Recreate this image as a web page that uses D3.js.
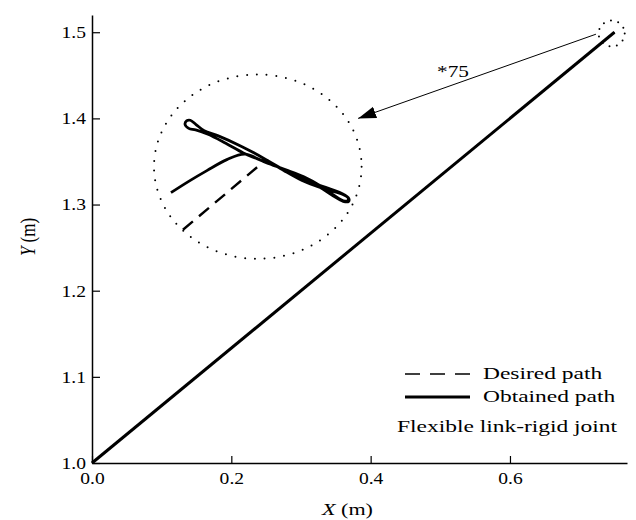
<!DOCTYPE html>
<html>
<head>
<meta charset="utf-8">
<script src="https://cdn.jsdelivr.net/npm/d3@7"></script>
<style>
  body { margin: 0; background: #fff; }
  text { font-family: "Liberation Serif", serif; font-size: 17px; fill: #000; }
</style>
</head>
<body>
<div id="chart"></div>
<script>
// ---- data ----
const xTicks = [0, 0.2, 0.4, 0.6];
const yTicks = [1.0, 1.1, 1.2, 1.3, 1.4, 1.5];

// end-effector path in metres
const desiredPath = [[0, 1.0], [0.75, 1.5]];
const obtainedPath = [[0, 1.0], [0.75, 1.5]];

// magnified view of the end point (*75), local units
const insetDesired = [[-7.5, -6.3], [0, 0]];
const insetObtained = [
  [-8.7, -2.6], [-6.8, -1.4], [-5.1, -0.4], [-3.1, 0.7], [-1.29, 1.24],
  [0.85, 0.39], [2.74, -0.30], [4.61, -1.02], [6.37, -1.98], [7.62, -2.85],
  [8.57, -3.41], [9.01, -3.40], [9.05, -3.09], [8.35, -2.70],
  [6.31, -2.11], [4.44, -1.38], [2.68, -0.43], [0.53, 0.87], [-1.68, 2.04],
  [-3.96, 3.07], [-5.37, 3.58], [-6.19, 4.20], [-6.76, 4.63],
  [-7.11, 4.58], [-7.29, 4.22], [-6.92, 3.82],
  [-6.23, 3.66], [-4.99, 3.23], [-3.21, 2.33], [-1.45, 1.37], [0.40, 0.60],
  [2.74, -0.30], [4.59, -1.07], [6.31, -2.11], [7.58, -2.94], [8.55, -3.46],
  [9.08, -3.49], [9.12, -3.18], [8.47, -2.70],
  [7.34, -2.27], [5.92, -1.76], [4.05, -1.03], [2.27, -0.13], [0.96, 0.61]
];
const insetExtent = [10.4, 9.2];

// annotation anchors (metres)
const zoomSpot = { cx: 0.746, cy: 1.4985, rx: 0.0187, ry: 0.015 };
const insetSpot = { cx: 0.238, cy: 1.344, rx: 0.149, ry: 0.107 };
const arrowFrom = [0.7234, 1.4977];
const arrowTo = [0.382, 1.400];
const zoomLabel = { text: "*75", x: 0.4953, y: 1.4484 };

const legendItems = [
  { name: "Desired path", dash: "15 10", width: 1.6 },
  { name: "Obtained path", dash: null, width: 3 }
];
const legendNote = "Flexible link-rigid joint";

// ---- layout ----
const width = 636, height = 520;
const margin = { top: 15, right: 9, bottom: 57, left: 92 };
const textStretch = 1.38, tickStretch = 1.15;

const svg = d3.select("#chart").append("svg")
  .attr("width", width)
  .attr("height", height);

const x = d3.scaleLinear().domain([0, 0.768]).range([margin.left, width - margin.right]);
const y = d3.scaleLinear().domain([1.0, 1.52]).range([height - margin.bottom, margin.top]);

const line = d3.line().x(d => x(d[0])).y(d => y(d[1]));

// axes
const xAxis = d3.axisBottom(x).tickValues(xTicks).tickFormat(d3.format(".1f"))
  .tickSize(-7).tickSizeOuter(0).tickPadding(9);
const yAxis = d3.axisLeft(y).tickValues(yTicks).tickFormat(d3.format(".1f"))
  .tickSize(-8).tickSizeOuter(0).tickPadding(6);

const gx = svg.append("g")
  .attr("transform", "translate(0," + (height - margin.bottom) + ")")
  .call(xAxis);
const gy = svg.append("g")
  .attr("transform", "translate(" + margin.left + ",0)")
  .call(yAxis);

[gx, gy].forEach(g => {
  g.select(".domain").attr("stroke", "#000").attr("stroke-width", 1.5);
  g.selectAll(".tick line").attr("stroke", "#000").attr("stroke-width", 1.2);
  g.selectAll(".tick text")
    .attr("font-family", "Liberation Serif, serif")
    .attr("font-size", 17)
    .attr("fill", "#000");
});
gx.selectAll(".tick text").each(function () {
  const t = d3.select(this);
  t.attr("transform", "translate(0," + t.attr("y") + ") scale(" + tickStretch + ",1)").attr("y", 0);
});
gy.selectAll(".tick text").each(function () {
  const t = d3.select(this);
  t.attr("transform", "translate(" + t.attr("x") + ",0) scale(" + tickStretch + ",1)").attr("x", 0);
});

// axis titles
const xTitle = svg.append("text")
  .attr("text-anchor", "middle")
  .attr("transform", "translate(" + ((margin.left + width - margin.right) / 2 - 12) + "," + (height - 5) + ") scale(1.3,1)");
xTitle.append("tspan").attr("font-style", "italic").text("X");
xTitle.append("tspan").text(" (m)");

const yTitle = svg.append("text")
  .attr("text-anchor", "middle")
  .attr("transform", "translate(35,237) rotate(-90) scale(1,1.25)");
yTitle.append("tspan").attr("font-style", "italic").text("Y");
yTitle.append("tspan").text(" (m)");

// main paths
svg.append("path").datum(desiredPath)
  .attr("d", line).attr("fill", "none")
  .attr("stroke", "#000").attr("stroke-width", 1.6).attr("stroke-dasharray", "10 6");
svg.append("path").datum(obtainedPath)
  .attr("d", line).attr("fill", "none")
  .attr("stroke", "#000").attr("stroke-width", 3);

// dotted circles
function dottedEllipse(s, gap) {
  svg.append("ellipse")
    .attr("cx", x(s.cx)).attr("cy", y(s.cy))
    .attr("rx", x(s.cx + s.rx) - x(s.cx))
    .attr("ry", y(s.cy) - y(s.cy + s.ry))
    .attr("fill", "none").attr("stroke", "#000")
    .attr("stroke-width", 2).attr("stroke-linecap", "round")
    .attr("stroke-dasharray", "0 " + gap);
}
dottedEllipse(zoomSpot, 7.5);
dottedEllipse(insetSpot, 9.8);

// arrow
svg.append("defs").append("marker")
  .attr("id", "head")
  .attr("markerUnits", "userSpaceOnUse")
  .attr("markerWidth", 20).attr("markerHeight", 14)
  .attr("refX", 18).attr("refY", 7)
  .attr("orient", "auto")
  .append("path").attr("d", "M0,1 L18,7 L0,13 Z").attr("fill", "#000");

svg.append("line")
  .attr("x1", x(arrowFrom[0])).attr("y1", y(arrowFrom[1]))
  .attr("x2", x(arrowTo[0])).attr("y2", y(arrowTo[1]))
  .attr("stroke", "#000").attr("stroke-width", 1)
  .attr("marker-end", "url(#head)");

svg.append("text")
  .attr("transform", "translate(" + x(zoomLabel.x) + "," + y(zoomLabel.y) + ") scale(1.25,1)")
  .text(zoomLabel.text);

// magnified inset
const insetX = d3.scaleLinear().domain([-insetExtent[0], insetExtent[0]])
  .range([x(insetSpot.cx - insetSpot.rx), x(insetSpot.cx + insetSpot.rx)]);
const insetY = d3.scaleLinear().domain([-insetExtent[1], insetExtent[1]])
  .range([y(insetSpot.cy - insetSpot.ry), y(insetSpot.cy + insetSpot.ry)]);

svg.append("path").datum(insetDesired)
  .attr("d", d3.line().x(d => insetX(d[0])).y(d => insetY(d[1])))
  .attr("fill", "none").attr("stroke", "#000")
  .attr("stroke-width", 2.4).attr("stroke-dasharray", "13 8");

svg.append("path").datum(insetObtained)
  .attr("d", d3.line().curve(d3.curveCatmullRom).x(d => insetX(d[0])).y(d => insetY(d[1])))
  .attr("fill", "none").attr("stroke", "#000")
  .attr("stroke-width", 2.8).attr("stroke-linejoin", "round");

// legend
const legend = svg.append("g").attr("transform", "translate(405,374)");
legendItems.forEach((d, i) => {
  const row = legend.append("g").attr("transform", "translate(0," + i * 23 + ")");
  row.append("line")
    .attr("x1", 0).attr("x2", 65)
    .attr("stroke", "#000").attr("stroke-width", d.width)
    .attr("stroke-dasharray", d.dash);
  row.append("text")
    .attr("transform", "translate(78,5) scale(" + textStretch + ",1)")
    .text(d.name);
});
legend.append("text")
  .attr("transform", "translate(-8,58) scale(" + textStretch + ",1)")
  .text(legendNote);
</script>
</body>
</html>
